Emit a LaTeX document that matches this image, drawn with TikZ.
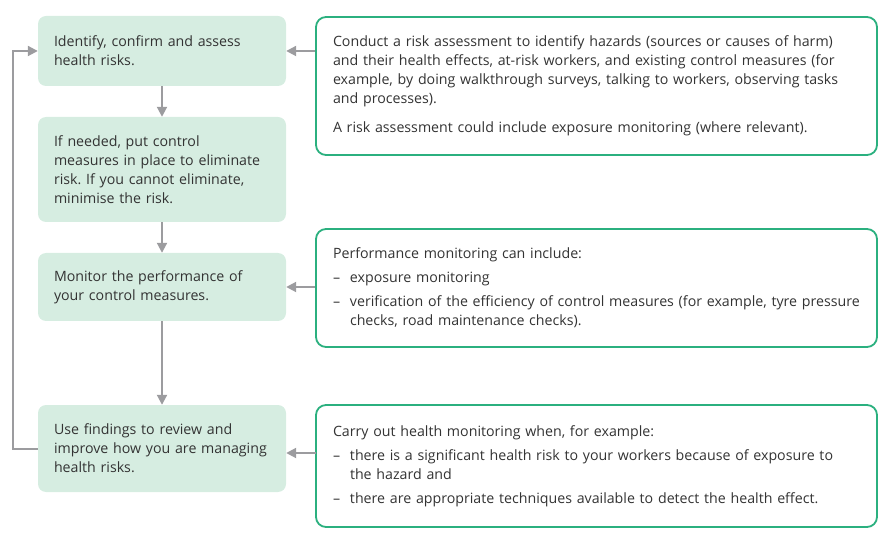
\documentclass[tikz,border=0pt]{standalone}
\usepackage{fontspec}
\setmainfont{Open Sans}
\usetikzlibrary{arrows.meta}
\definecolor{fillg}{HTML}{D6EDE1}
\definecolor{lineg}{HTML}{2BB07F}
\definecolor{arrg}{HTML}{9C9C9F}
\definecolor{txt}{HTML}{333333}
\newcommand\bitem[1]{\makebox[17pt][l]{–}#1}
\newcommand\bcont{\hspace*{17pt}}
\frenchspacing
\begin{document}
\begin{tikzpicture}[x=1pt,y=-1pt,
  stepbox/.style={fill=fillg, rounded corners=8pt, draw=none, text width=216pt,
    inner xsep=16pt, inner ysep=0pt, align=left, font=\fontsize{14.2}{19}\selectfont,
    text=txt, minimum width=248pt},
  notebox/.style={draw=lineg, line width=1.8pt, rounded corners=10pt, text width=527pt,
    inner xsep=17pt, inner ysep=0pt, align=left, font=\fontsize{14.2}{19}\selectfont,
    text=txt, minimum width=561pt},
  conn/.style={draw=arrg, line width=2pt, -{Triangle[length=10pt,width=10pt]}}
]
\useasboundingbox (0,0) rectangle (895,548);

\node[stepbox, minimum height=70pt] (b1) at (162,51)
  {Identify, confirm and assess\\health risks.};
\node[stepbox, minimum height=105pt] (b2) at (162,169.5)
  {If needed, put control\\measures in place to eliminate\\risk. If you cannot eliminate,\\minimise the risk.};
\node[stepbox, minimum height=68pt] (b3) at (162,287)
  {Monitor the performance of\\your control measures.};
\node[stepbox, minimum height=87pt] (b4) at (162,448.5)
  {Use findings to review and\\improve how you are managing\\health risks.};

\node[notebox, minimum height=138pt] (r1) at (596.5,86)
  {Conduct a risk assessment to identify hazards (sources or causes of harm)\\
   and their health effects, at-risk workers, and existing control measures (for\\
   example, by doing walkthrough surveys, talking to workers, observing tasks\\
   and processes).\\[10pt]
   A risk assessment could include exposure monitoring (where relevant).};
\node[notebox, minimum height=118pt] (r2) at (596.5,288)
  {Performance monitoring can include:\\[5pt]
   \bitem{exposure monitoring}\\[5pt]
   \bitem{verification of the efficiency of control measures (for example, tyre pressure}\\
   \bcont checks, road maintenance checks).};
\node[notebox, minimum height=122pt] (r3) at (596.5,466)
  {Carry out health monitoring when, for example:\\[5pt]
   \bitem{there is a significant health risk to your workers because of exposure to}\\
   \bcont the hazard and\\[5pt]
   \bitem{there are appropriate techniques available to detect the health effect.}};

\coordinate (lp) at (13,0);
\coordinate (r3a) at (316,453);

\draw[conn] (b1) -- (b2);
\draw[conn] (b2) -- (b3);
\draw[conn] (b3) -- (b4);
\draw[conn] (r1.west |- b1.east) -- (b1.east);
\draw[conn] (r2.west |- b3.east) -- (b3.east);
\draw[conn] (r3a) -- (b4.east |- r3a);
\draw[conn] (b4.west) -| (lp |- b4.west) |- (b1.west);
\end{tikzpicture}
\end{document}
